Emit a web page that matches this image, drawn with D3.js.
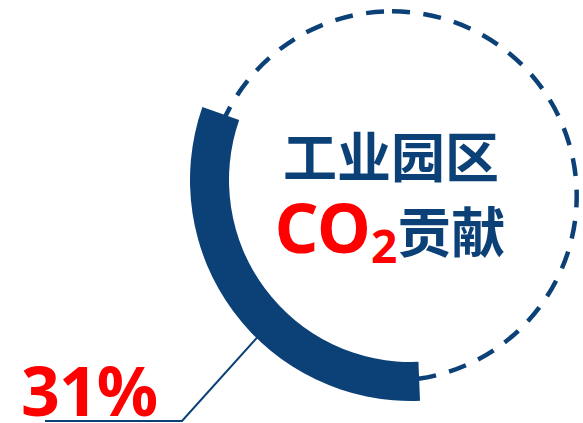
<!DOCTYPE html>
<html>
<head>
<meta charset="utf-8">
<script src="https://cdn.jsdelivr.net/npm/d3@7"></script>
<style>
  html, body { margin: 0; padding: 0; background: #ffffff; }
  svg { display: block; }
</style>
</head>
<body>
<svg id="chart" width="583" height="423"></svg>
<script>
// Share of CO2 contributed by industrial parks
const shareValues = [0.31];
const shareLabels = ["31%"];
const titleLine1 = ["工业园区"];
const titleLine2 = ["CO", "2", "贡献"];

const blue = "#0c4178";
const red = "#ff0000";
const latinFont = "'Noto Sans', 'Open Sans', sans-serif";
const cjkFont = "'Noto Sans CJK SC', 'Noto Sans', sans-serif";

const svg = d3.select("#chart");

// Dashed outline ring (full circle) and the thick band for the share
const ring = { cx: 392, cy: 196, r: 184.7 };
const band = { cx: 411, cy: 180, inner: 182, outer: 221 };
const bandStart = Math.PI * 0.987;          // starts near the bottom, runs clockwise
const angle = d3.scaleLinear().domain([0, 1]).range([0, 2 * Math.PI]);

const outline = d3.path();
outline.arc(ring.cx, ring.cy, ring.r, -Math.PI / 2, 1.5 * Math.PI);
svg.append("path")
  .attr("d", outline.toString())
  .attr("fill", "none")
  .attr("stroke", blue)
  .attr("stroke-width", 4.5)
  .attr("stroke-dasharray", "18 13.5");

// Leader line from the band down to the value label
const leaderFrac = 0.42;                      // position along the band where the leader attaches
const la = bandStart + angle(shareValues[0]) * leaderFrac;
const lr = (band.inner + band.outer) / 2;
const leaderEnd = [band.cx + lr * Math.sin(la), band.cy - lr * Math.cos(la)];
const elbow = [182, 421];
svg.append("path")
  .attr("d", d3.line()([[45, elbow[1]], elbow, leaderEnd]))
  .attr("fill", "none")
  .attr("stroke", blue)
  .attr("stroke-width", 2);

const arcGen = d3.arc()
  .innerRadius(band.inner)
  .outerRadius(band.outer);

svg.append("g")
  .attr("transform", `translate(${band.cx},${band.cy})`)
  .selectAll("path")
  .data(shareValues)
  .join("path")
  .attr("d", d => arcGen({ startAngle: bandStart, endAngle: bandStart + angle(d) }))
  .attr("fill", blue);

// Value label
svg.selectAll("text.value")
  .data(shareLabels)
  .join("text")
  .attr("class", "value")
  .attr("x", 21)
  .attr("y", 416)
  .attr("font-family", latinFont)
  .attr("font-weight", 700)
  .attr("font-size", 68)
  .attr("letter-spacing", -1)
  .attr("fill", red)
  .text(d => d);

// Centre title
svg.append("text")
  .attr("x", 391)
  .attr("y", 178)
  .attr("text-anchor", "middle")
  .attr("font-family", cjkFont)
  .attr("font-weight", 700)
  .attr("font-size", 54)
  .attr("fill", blue)
  .text(titleLine1[0]);

const t2 = svg.append("text")
  .attr("x", 390)
  .attr("y", 253)
  .attr("text-anchor", "middle")
  .attr("font-weight", 700);
t2.append("tspan")
  .attr("font-family", latinFont)
  .attr("font-size", 68)
  .attr("fill", red)
  .text(titleLine2[0]);
t2.append("tspan")
  .attr("font-family", latinFont)
  .attr("font-size", 46)
  .attr("dy", 10)
  .attr("fill", red)
  .text(titleLine2[1]);
t2.append("tspan")
  .attr("font-family", cjkFont)
  .attr("font-size", 54)
  .attr("dy", -10)
  .attr("fill", blue)
  .text(titleLine2[2]);
</script>
</body>
</html>
